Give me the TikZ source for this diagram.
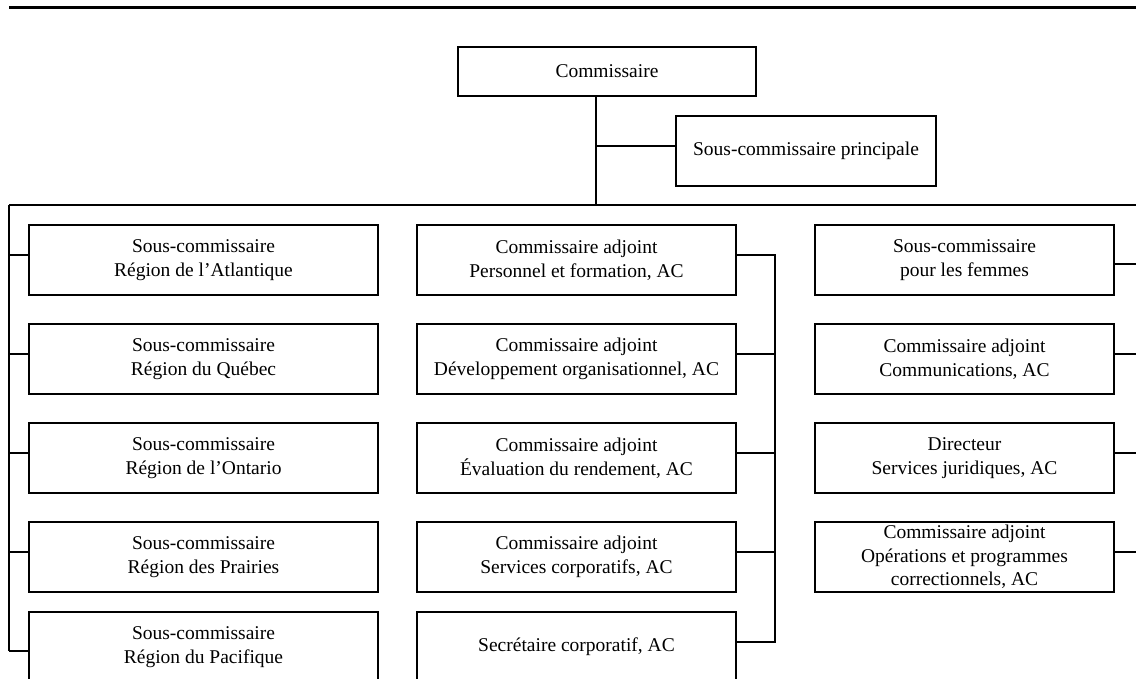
\documentclass[tikz,border=0pt]{standalone}
\usepackage{fontspec}
\setmainfont{Liberation Serif}
\tikzset{
  orgbox/.style={draw, line width=1.1pt, inner sep=0pt, align=center,
    font=\fontsize{19.5}{24}\selectfont},
  lcol/.style={orgbox, minimum width=349pt, minimum height=70pt},
  mcol/.style={orgbox, minimum width=319pt, minimum height=70pt},
  rcol/.style={orgbox, minimum width=299pt, minimum height=70pt},
  conn/.style={line width=1.1pt}
}
\begin{document}
\begin{tikzpicture}[x=1pt,y=-1pt]
\useasboundingbox (0,0) rectangle (1136,679);
\clip (0,0) rectangle (1136,679);
% top rule
\coordinate (ruleL) at (9,7.2);
\coordinate (ruleR) at (1136,7.2);
\draw[line width=3.2pt] (ruleL) -- (ruleR);

% top nodes
\node[orgbox, minimum width=298pt, minimum height=49pt] (comm) at (607,71.5) {Commissaire};
\node[orgbox, minimum width=260pt, minimum height=70pt] (princ) at (806,151) {Sous-commissaire principale};

% left column
\node[lcol] (l1) at (203.5,260) {Sous-commissaire\\Région de l’Atlantique};
\node[lcol] (l2) at (203.5,359) {Sous-commissaire\\Région du Québec};
\node[lcol] (l3) at (203.5,458) {Sous-commissaire\\Région de l’Ontario};
\node[lcol] (l4) at (203.5,557) {Sous-commissaire\\Région des Prairies};
\node[lcol] (l5) at (203.5,647) {Sous-commissaire\\Région du Pacifique};

% middle column
\node[mcol] (m1) at (576.5,260) {Commissaire adjoint\\Personnel et formation, AC};
\node[mcol] (m2) at (576.5,359) {Commissaire adjoint\\Développement organisationnel, AC};
\node[mcol] (m3) at (576.5,458) {Commissaire adjoint\\Évaluation du rendement, AC};
\node[mcol] (m4) at (576.5,557) {Commissaire adjoint\\Services corporatifs, AC};
\node[mcol] (m5) at (576.5,647) {Secrétaire corporatif, AC};

% right column
\node[rcol] (r1) at (964.5,260) {Sous-commissaire\\pour les femmes};
\node[rcol] (r2) at (964.5,359) {Commissaire adjoint\\Communications, AC};
\node[rcol] (r3) at (964.5,458) {Directeur\\Services juridiques, AC};
\node[rcol, font=\fontsize{19.5}{23.5}\selectfont] (r4) at (964.5,557) {Commissaire adjoint\\Opérations et programmes\\correctionnels, AC};

% main trunk and bus
\coordinate (j) at (596,205);
\coordinate (busL) at (9,205);
\coordinate (busR) at (1136,205);
\coordinate (jp) at (596,146);
\draw[conn] (comm.south -| j) -- (j);
\draw[conn] (jp) -- (princ.west |- jp);
\draw[conn] (busL) -- (busR);

% left spine
\coordinate (lend) at (9,651);
\draw[conn] (busL) -- (lend);
\draw[conn] (l1.west |- 0,255) -- (busL |- 0,255);
\draw[conn] (l2.west |- 0,354) -- (busL |- 0,354);
\draw[conn] (l3.west |- 0,453) -- (busL |- 0,453);
\draw[conn] (l4.west |- 0,552) -- (busL |- 0,552);
\draw[conn] (l5.west |- lend) -- (lend);

% middle spine
\coordinate (mtop) at (775,255);
\coordinate (mbot) at (775,642);
\draw[conn] (m1.east |- mtop) -- (mtop) -- (mbot) -- (m5.east |- mbot);
\draw[conn] (m2.east |- 0,354) -- (mtop |- 0,354);
\draw[conn] (m3.east |- 0,453) -- (mtop |- 0,453);
\draw[conn] (m4.east |- 0,552) -- (mtop |- 0,552);

% right stubs
\draw[conn] (r1.east |- 0,264) -- (busR |- 0,264);
\draw[conn] (r2.east |- 0,354) -- (busR |- 0,354);
\draw[conn] (r3.east |- 0,453) -- (busR |- 0,453);
\draw[conn] (r4.east |- 0,552) -- (busR |- 0,552);
\end{tikzpicture}
\end{document}
